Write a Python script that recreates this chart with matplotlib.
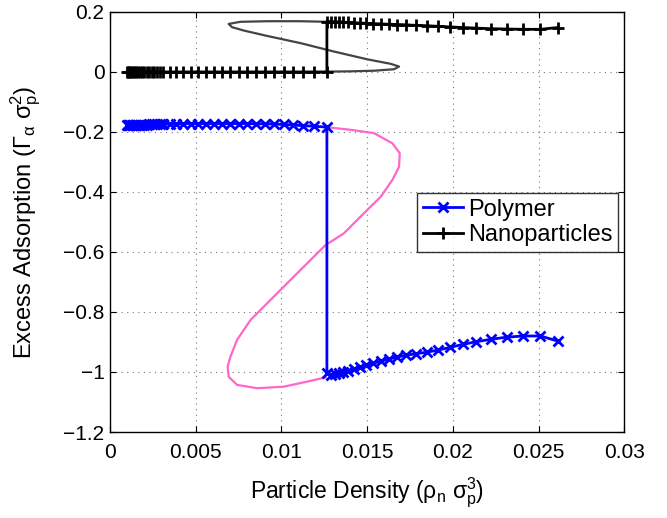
import numpy as np
import matplotlib
matplotlib.use('Agg')
import matplotlib.pyplot as plt

plt.rcParams['font.family'] = ['Liberation Sans', 'DejaVu Sans']
plt.rcParams['mathtext.fontset'] = 'custom'
plt.rcParams['mathtext.rm'] = 'Liberation Sans'
plt.rcParams['mathtext.it'] = 'Liberation Sans'

#==============================================================================
# data
#==============================================================================
# density grid below the transition (low-density branch)
rho_low = [0.00099, 0.00105, 0.00111, 0.00118, 0.00126, 0.00134, 0.00143,
           0.00153, 0.00164, 0.00175, 0.00187, 0.00200, 0.00213, 0.00228,
           0.00243, 0.00259, 0.00275, 0.00292, 0.00310, 0.00348, 0.00386,
           0.00427, 0.00471, 0.00515, 0.00561, 0.00608, 0.00655, 0.00702,
           0.00751, 0.00801, 0.00851, 0.00904, 0.00959, 0.01015, 0.01067,
           0.01123, 0.01190, 0.01265]
# density grid above the transition (high-density branch)
rho_high = [0.01265, 0.01289, 0.01310, 0.01333, 0.01360, 0.01389, 0.01421,
            0.01456, 0.01494, 0.01535, 0.01579, 0.01626, 0.01675, 0.01729,
            0.01787, 0.01848, 0.01913, 0.01984, 0.02058, 0.02137, 0.02222,
            0.02313, 0.02409, 0.02511, 0.02612]

poly_low = [-0.178, -0.178, -0.178, -0.178, -0.177, -0.177, -0.177,
            -0.177, -0.177, -0.176, -0.176, -0.176, -0.176, -0.175,
            -0.175, -0.175, -0.174, -0.174, -0.174, -0.173, -0.173,
            -0.172, -0.172, -0.172, -0.172, -0.172, -0.172, -0.172,
            -0.172, -0.172, -0.173, -0.173, -0.174, -0.175, -0.177,
            -0.179, -0.181, -0.184]
poly_high = [-1.005, -1.011, -1.008, -1.005, -1.001, -0.997, -0.991,
             -0.985, -0.978, -0.971, -0.964, -0.957, -0.950, -0.944,
             -0.939, -0.934, -0.927, -0.918, -0.908, -0.899, -0.891,
             -0.884, -0.880, -0.880, -0.897]

nano_low = [0.0] * 38
nano_high = [0.168, 0.168, 0.167, 0.167, 0.166, 0.165, 0.164,
             0.163, 0.162, 0.161, 0.160, 0.159, 0.158, 0.157,
             0.155, 0.154, 0.152, 0.150, 0.148, 0.146, 0.144,
             0.143, 0.142, 0.142, 0.148]

# van der Waals loops (unstable part of the isotherm)
loop_poly_x = [0.01263, 0.01404, 0.0154, 0.01647, 0.0169, 0.01686, 0.01647,
               0.01579, 0.01481, 0.01364, 0.01257, 0.01111, 0.00955, 0.00819,
               0.00741, 0.00702, 0.00686, 0.00692, 0.00741, 0.00858, 0.01013,
               0.0115, 0.01257]
loop_poly_y = [-0.184, -0.193, -0.204, -0.238, -0.271, -0.316, -0.36,
               -0.416, -0.471, -0.538, -0.577, -0.66, -0.749, -0.827,
               -0.893, -0.949, -0.982, -1.016, -1.043, -1.054, -1.049,
               -1.032, -1.018]
loop_nano_x = [0.01267, 0.01111, 0.00916, 0.0076, 0.00692, 0.00712, 0.0078,
               0.00916, 0.01111, 0.01306, 0.01501, 0.01637, 0.01686, 0.01657,
               0.0154, 0.01404, 0.01267]
loop_nano_y = [0.167, 0.169, 0.169, 0.167, 0.160, 0.149, 0.138,
               0.120, 0.096, 0.068, 0.042, 0.027, 0.018, 0.009,
               0.004, 0.002, 0.001]

xticks = [0, 0.005, 0.01, 0.015, 0.02, 0.025, 0.03]
xtick_labels = ['0', '0.005', '0.01', '0.015', '0.02', '0.025', '0.03']
yticks = [0.2, 0, -0.2, -0.4, -0.6, -0.8, -1, -1.2]
ytick_labels = ['0.2', '0', '\u22120.2', '\u22120.4', '\u22120.6', '\u22120.8',
                '\u22121', '\u22121.2']

#==============================================================================
#                                plots
#==============================================================================
fig = plt.figure(figsize=(6.67, 5.18), dpi=100)
ax = fig.add_axes([0.165, 0.166, 0.771, 0.811])

ax.plot(loop_poly_x, loop_poly_y, color='#ff66cc', lw=1.6, zorder=2)
ax.plot(loop_nano_x, loop_nano_y, color='#444444', lw=1.6, zorder=2)

ax.plot(rho_low + rho_high, poly_low + poly_high, color='#0000ff', lw=2,
        marker='x', ms=7, mew=2, label='Polymer', zorder=3)
ax.plot(rho_low + rho_high, nano_low + nano_high, color='black', lw=2,
        marker='+', ms=8.5, mew=2, label='Nanoparticles', zorder=3)

ax.set_xlim(0, 0.03)
ax.set_ylim(-1.2, 0.2)
ax.set_xticks(xticks)
ax.set_xticklabels(xtick_labels)
ax.set_yticks(yticks)
ax.set_yticklabels(ytick_labels)
ax.tick_params(direction='in', top=True, right=True, labelsize=15, length=4)
ax.tick_params(axis='x', pad=8)
ax.tick_params(axis='y', pad=4)
ax.grid(True, linestyle=(0, (1, 4)), color='#777777', lw=0.8)
for sp in ax.spines.values():
    sp.set_linewidth(1.0)

ax.set_xlabel(r'Particle Density ($\mathregular{\rho_n\ \sigma_p^3}$)',
              fontsize=16.5)
ax.set_ylabel(r'Excess Adsorption ($\mathregular{\Gamma_\alpha\ \sigma_p^2}$)',
              fontsize=17)
ax.xaxis.set_label_coords(0.5, -0.105)
ax.yaxis.set_label_coords(-0.13, 0.5)

leg = ax.legend(loc='center right', bbox_to_anchor=(0.988, 0.499),
                fontsize=17, frameon=True, fancybox=False, edgecolor='black',
                handlelength=1.7, handletextpad=0.2, borderpad=0.25,
                labelspacing=0.15, borderaxespad=0)
leg.get_frame().set_linewidth(1.0)

plt.savefig('out.png', dpi=100)
